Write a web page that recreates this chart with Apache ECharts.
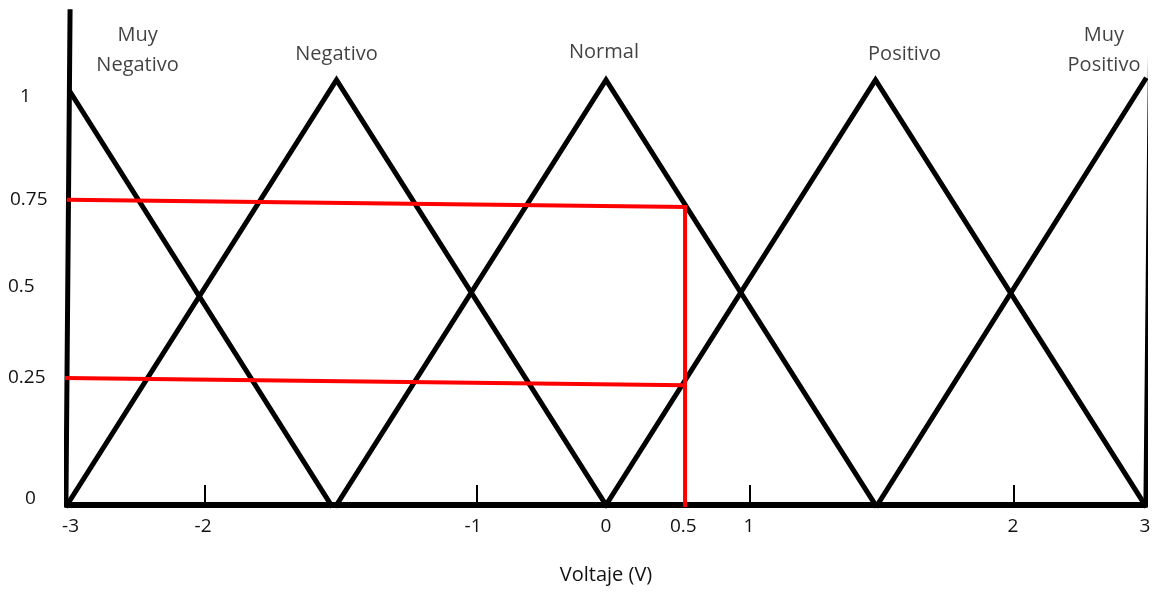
<!DOCTYPE html>
<html>
<head>
<meta charset="utf-8">
<script src="https://cdn.jsdelivr.net/npm/echarts@6/dist/echarts.min.js"></script>
<style>
  html, body { margin: 0; padding: 0; background: #fff; }
  #chart { width: 1165px; height: 592px; }
</style>
</head>
<body>
<div id="chart"></div>
<script>
// conjuntos difusos (voltaje, pertenencia)
var setNames = ['Muy\nNegativo', 'Negativo', 'Normal', 'Positivo', 'Muy\nPositivo'];
var muyNegativo = [[-2.98, 0.97], [-1.53, 0]];
var negativo = [[-3, 0], [-1.5, 1], [0, 0]];
var normal = [[-1.5, 0], [0, 1], [1.5, 0]];
var positivo = [[0, 0], [1.5, 1], [3, 0]];
var muyPositivo = [[1.51, 0], [3, 1]];
var sets = [muyNegativo, negativo, normal, positivo, muyPositivo];

// lineas rojas de lectura en 0.5 V
var redTop = [[-2.99, 0.718], [0.44, 0.701]];
var redBottom = [[-3.01, 0.299], [0.43, 0.282]];
var redVertical = [[0.44, 0.701], [0.44, 0]];

// bordes verticales
var leftEdge = [[-2.983, 1.16], [-3.006, 0]];
var rightEdge = [[3.033, 1.16], [3.005, 0]];

// ejes (posiciones tal como estan dibujadas)
var xLabelValues = [-2.98, -2.243, -0.74, 0, 0.43, 0.796, 2.265, 3];
var xLabelTexts = ['-3', '-2', '-1', '0', '0.5', '1', '2', '3'];
var xTickValues = [-2.232, -0.718, 0.801, 2.271];
var yLabelValues = [0.016, 0.299, 0.513, 0.718, 0.96];
var yLabelTexts = ['0', '0.25', '0.5', '0.75', '1'];

var FONT = 'Open Sans';
var FSIZE = 20;
var TCOLOR = '#111';
var myChart = echarts.init(document.getElementById('chart'));

function lineSeries(data, color, width) {
    return {
        type: 'line',
        data: data,
        showSymbol: false,
        symbol: 'none',
        clip: false,
        silent: true,
        lineStyle: { color: color, width: width, cap: 'square', join: 'miter' },
        z: 3
    };
}

// posicion de cada nombre respecto al pico
var nameOffsets = [[67, -42], [0, -26], [-2, -28], [29, -26], [-41, -30]];
var nameData = sets.map(function (s, i) {
    var peak = s.reduce(function (a, b) { return b[1] > a[1] ? b : a; });
    return {
        value: peak,
        label: { show: true, formatter: setNames[i], position: 'inside', offset: nameOffsets[i] }
    };
});

var yPad = { '0': 17, '0.25': 0, '0.5': 0, '0.75': 2, '1': 12 };
var rich = {};
yLabelTexts.forEach(function (t, i) {
    rich['y' + i] = { fontFamily: FONT, fontSize: FSIZE - 1, color: TCOLOR, padding: [0, 0, 0, yPad[t]] };
});

var series = [];
sets.forEach(function (s) { series.push(lineSeries(s, '#000', 5)); });
series.push(lineSeries(leftEdge, '#000', 5));
series.push(lineSeries(rightEdge, '#000', 5));
series.push(lineSeries(redTop, '#ff0000', 4));
series.push(lineSeries(redBottom, '#ff0000', 4));
series.push(lineSeries(redVertical, '#ff0000', 4));
series.push({
    type: 'scatter',
    data: nameData,
    symbolSize: 0,
    silent: true,
    label: { fontFamily: FONT, fontSize: FSIZE, color: TCOLOR, lineHeight: 30, align: 'center' },
    z: 5
});

myChart.setOption({
    animation: false,
    backgroundColor: '#fff',
    grid: { left: 67, right: 20, top: 11, bottom: 87 },
    xAxis: {
        type: 'value',
        min: -3,
        max: 3,
        offset: 3,
        name: 'Voltaje (V)',
        nameLocation: 'middle',
        nameGap: 57,
        nameTextStyle: { fontFamily: FONT, fontSize: FSIZE, color: TCOLOR },
        axisLine: { show: true, lineStyle: { color: '#000', width: 6 } },
        axisTick: { show: true, inside: true, length: 20, customValues: xTickValues, lineStyle: { color: '#000', width: 2 } },
        axisLabel: {
            customValues: xLabelValues,
            margin: 9,
            fontFamily: FONT,
            fontSize: FSIZE - 1,
            color: TCOLOR,
            formatter: function (v) {
                var i = xLabelValues.indexOf(v);
                return i >= 0 ? xLabelTexts[i] : '';
            }
        },
        splitLine: { show: false }
    },
    yAxis: {
        type: 'value',
        min: 0,
        max: 1.162,
        axisLine: { show: false },
        axisTick: { show: false },
        splitLine: { show: false },
        axisLabel: {
            customValues: yLabelValues,
            align: 'left',
            margin: 59,
            rich: rich,
            formatter: function (v) {
                var i = yLabelValues.indexOf(v);
                return i >= 0 ? '{y' + i + '|' + yLabelTexts[i] + '}' : '';
            }
        }
    },
    series: series
});
</script>
</body>
</html>
